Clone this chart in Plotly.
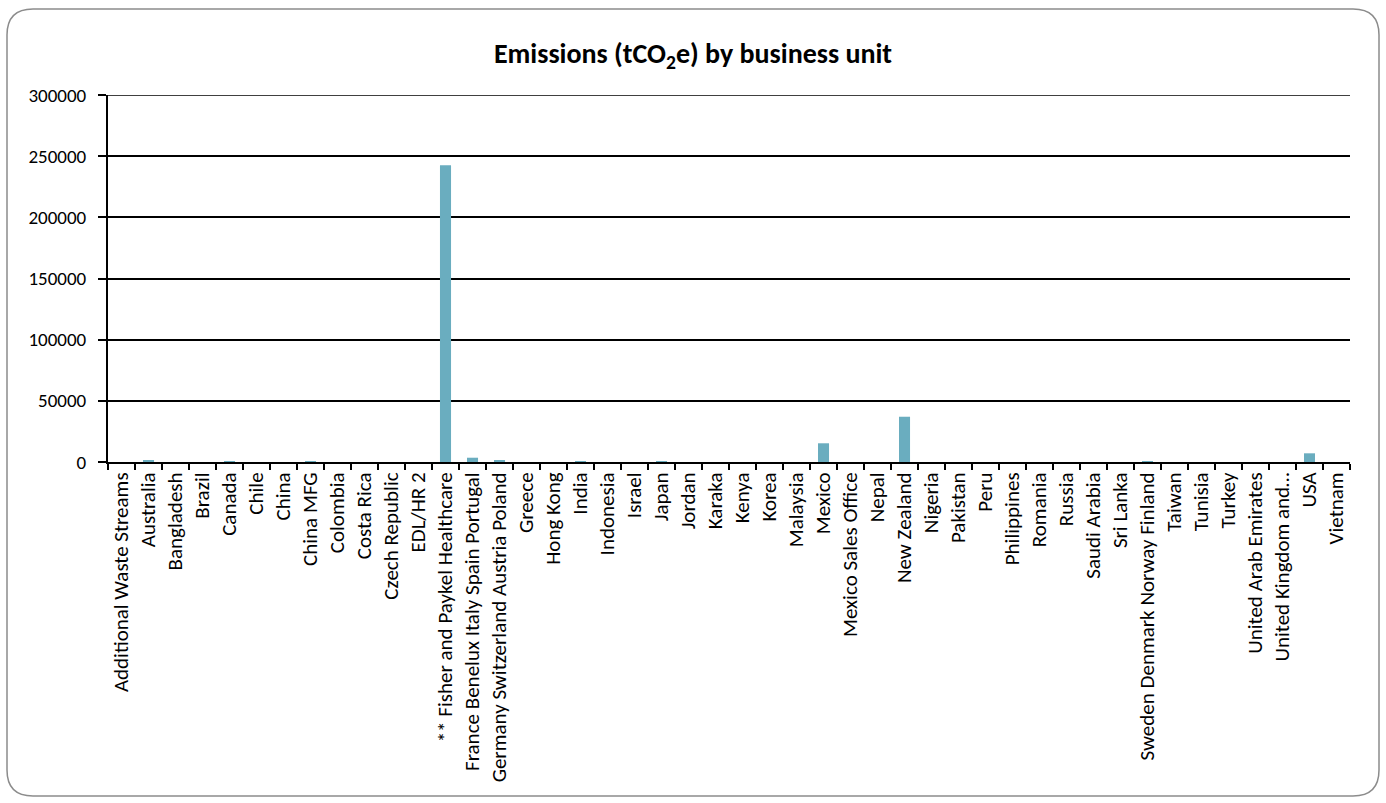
import plotly.graph_objects as go

categories = [
    "Additional Waste Streams", "Australia", "Bangladesh", "Brazil", "Canada", "Chile",
    "China", "China MFG", "Colombia", "Costa Rica", "Czech Republic", "EDL/HR 2",
    "** Fisher and Paykel Healthcare", "France Benelux Italy Spain Portugal",
    "Germany Switzerland Austria Poland", "Greece", "Hong Kong", "India", "Indonesia",
    "Israel", "Japan", "Jordan", "Karaka", "Kenya", "Korea", "Malaysia", "Mexico",
    "Mexico Sales Office", "Nepal", "New Zealand", "Nigeria", "Pakistan", "Peru",
    "Philippines", "Romania", "Russia", "Saudi Arabia", "Sri Lanka",
    "Sweden Denmark Norway Finland", "Taiwan", "Tunisia", "Turkey",
    "United Arab Emirates", "United Kingdom and…", "USA", "Vietnam",
]
emissions = [
    0, 1500, 0, 0, 500, 0,
    0, 300, 0, 0, 0, 0,
    242600, 3500,
    1200, 0, 0, 200, 0,
    0, 700, 0, 0, 0, 0, 0, 15300,
    0, 0, 37000, 0, 0, 0,
    0, 0, 0, 0, 0,
    700, 0, 0, 0,
    0, 0, 7100, 0,
]
y_ticks = [0, 50000, 100000, 150000, 200000, 250000, 300000]

font_family = "Calibri, Carlito, Lato, 'Open Sans', sans-serif"

fig = go.Figure()
fig.add_trace(go.Bar(
    x=categories, y=emissions,
    marker=dict(color="#6aadbf", line=dict(width=0)),
    width=0.41,
))

W, H = 1386, 803
L, R, T, B = 108, 1350, 95, 462
pw, ph = R - L, B - T


def px(x):
    return (x - L) / pw


def py(y):
    return (B - y) / ph


# rounded border path in paper coords
x0, x1, y0, y1, r = 7, 1379, 9, 796, 26
pts = (
    f"M {px(x0 + r)},{py(y0)} L {px(x1 - r)},{py(y0)} "
    f"Q {px(x1)},{py(y0)} {px(x1)},{py(y0 + r)} "
    f"L {px(x1)},{py(y1 - r)} Q {px(x1)},{py(y1)} {px(x1 - r)},{py(y1)} "
    f"L {px(x0 + r)},{py(y1)} Q {px(x0)},{py(y1)} {px(x0)},{py(y1 - r)} "
    f"L {px(x0)},{py(y0 + r)} Q {px(x0)},{py(y0)} {px(x0 + r)},{py(y0)} Z"
)

fig.update_layout(
    width=W, height=H,
    margin=dict(l=L, r=W - R, t=T, b=H - B, pad=0),
    paper_bgcolor="white", plot_bgcolor="white",
    font=dict(family=font_family, size=19, color="black"),
    showlegend=False,
    bargap=0.59,
    title=dict(
        text="<b>Emissions (tCO<sub>2</sub>e) by business unit</b>",
        x=0.5, xanchor="center", xref="container",
        y=1 - 53 / H, yanchor="middle",
        font=dict(family=font_family, size=28, color="black"),
    ),
    shapes=[
        dict(type="path", path=pts, xref="paper", yref="paper",
             line=dict(color="#8c8c8c", width=1.5), fillcolor="rgba(0,0,0,0)",
             layer="below"),
        dict(type="line", xref="paper", yref="y", x0=0, x1=1,
             y0=y_ticks[-1], y1=y_ticks[-1], line=dict(color="black", width=1.5)),
    ],
)
fig.update_xaxes(
    type="category",
    showline=True, linecolor="black", linewidth=2,
    ticks="outside", tickson="boundaries", ticklen=6, tickwidth=1.5, tickcolor="black",
    tickangle=-90, tickfont=dict(size=21),
    showgrid=False,
)
fig.update_yaxes(
    range=[0, 300000], tickvals=y_ticks, ticktext=[str(v) for v in y_ticks],
    showline=True, linecolor="black", linewidth=2,
    ticks="outside", ticklen=8, tickwidth=1.5, tickcolor="black",
    ticklabelstandoff=8,
    showgrid=True, gridcolor="black", gridwidth=1.5,
    zeroline=False, tickfont=dict(size=19),
)

fig.write_html("out.html")
